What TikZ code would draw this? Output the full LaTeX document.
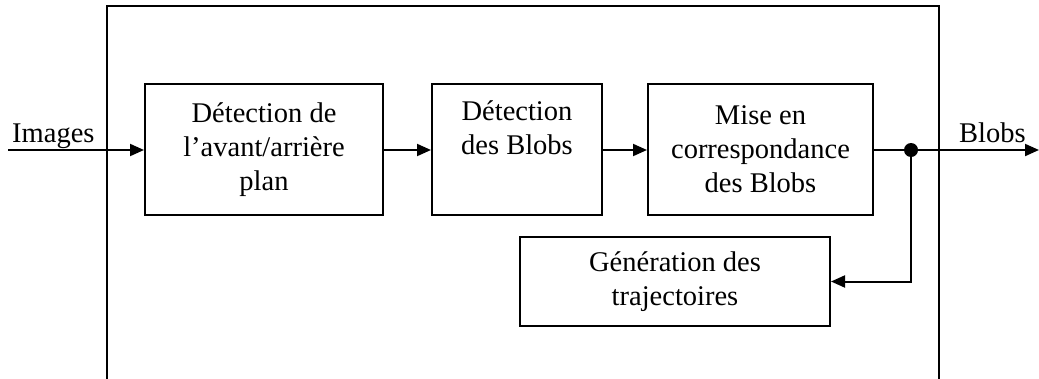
\documentclass[tikz,border=0pt]{standalone}
\usepackage{fontspec}
\setmainfont{Liberation Serif}
\usetikzlibrary{arrows.meta}
\begin{document}
\begin{tikzpicture}[x=1pt,y=-1pt,
  blk/.style={draw,line width=2pt,align=center,inner sep=0pt,
    font=\fontsize{28.5}{34}\selectfont},
  conn/.style={line width=2pt,-{Triangle[length=14pt,width=12pt]}},
  lbl/.style={font=\fontsize{28.5}{34}\selectfont,inner sep=0pt}]
\useasboundingbox (0,0) rectangle (1039,378);
\begin{scope}
\clip (0,0) rectangle (1039,378);
\draw[line width=2pt] (107,420) -- (107,6) -- (939,6) -- (939,420);
\end{scope}
\node[blk,minimum width=238pt,minimum height=131pt] (b1) at (264,149.5) {Détection de\\l’avant/arrière\\plan};
\node[blk,minimum width=170pt,minimum height=131pt] (b2) at (517,149.5) {Détection\\des Blobs\\\strut};
\node[blk,minimum width=225pt,minimum height=131pt] (b3) at (760.5,149.5) {Mise en\\correspondance\\des Blobs};
\node[blk,minimum width=310pt,minimum height=89pt] (b4) at (675,281.5) {Génération des\\trajectoires};
\coordinate (in) at (8,150);
\coordinate (out) at (1039,150);
\coordinate (dot) at (911,150);
\draw[conn] (in) -- (b1.west |- in);
\draw[conn] (b1.east |- in) -- (b2.west |- in);
\draw[conn] (b2.east |- in) -- (b3.west |- in);
\draw[conn] (b3.east |- out) -- (out);
\draw[conn] (dot) |- (b4.east);
\fill (dot) circle (7pt);
\node[lbl,anchor=base west] (limg) at (12,142) {Images};
\node[lbl,anchor=base west] (lblobs) at (959,142) {Blobs};
\end{tikzpicture}
\end{document}
